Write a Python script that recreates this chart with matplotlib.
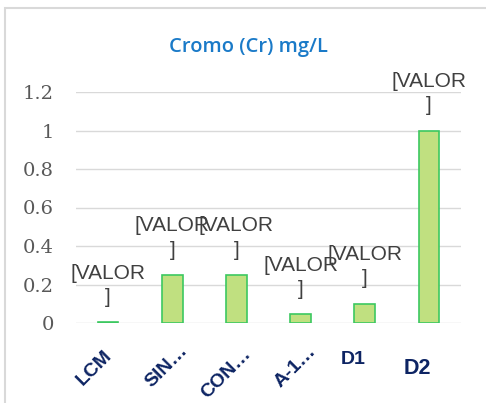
import matplotlib.pyplot as plt
from matplotlib.patches import Rectangle
from matplotlib.transforms import ScaledTranslation, blended_transform_factory

categories = ['LCM', 'SIN…', 'CON…', 'A-1…', 'D1', 'D2']
values = [0.005, 0.25, 0.25, 0.045, 0.1, 1.0]
point_labels = ['[VALOR\n]'] * len(values)
yticks = [0, 0.2, 0.4, 0.6, 0.8, 1, 1.2]
ytick_labels = ['0', '0.2', '0.4', '0.6', '0.8', '1', '1.2']

fig = plt.figure(figsize=(4.86, 4.03), dpi=100)
fig.patches.append(Rectangle((5 / 486, -0.01), 1.0, 1 - 8 / 403 + 0.01,
                             transform=fig.transFigure, fill=False,
                             edgecolor='#d9d9d9', lw=1.5))

ax = fig.add_axes([76 / 486, 1 - 323 / 403, 385 / 486, 231 / 403])
x = list(range(len(categories)))
bars = ax.bar(x, values, width=0.32, color='#c0e080', edgecolor='#3cc860', lw=1.2,
              zorder=3)
for b, lab in zip(bars, point_labels):
    ax.annotate(lab, (b.get_x() + b.get_width() / 2, b.get_height()),
                xytext=(0, 11), textcoords='offset points', ha='center', va='bottom',
                fontsize=15, color='#404040', linespacing=1.35,
                family='Liberation Sans', annotation_clip=False, zorder=4)

ax.set_xlim(-0.5, len(categories) - 0.5)
ax.set_ylim(0, 1.2)
ax.set_yticks(yticks)
ax.set_yticklabels(ytick_labels, family='DejaVu Serif', fontsize=14,
                   color='#595959')
ax.tick_params(axis='y', length=0, pad=16)
ax.set_xticks(x)
ax.set_xticklabels([])
ax.tick_params(axis='x', length=0)
ax.grid(axis='y', color='#d9d9d9', lw=1, zorder=0)
for s in ax.spines.values():
    s.set_visible(False)

# category labels: pixel offsets from (bar centre, axis bottom)
trans = blended_transform_factory(ax.transData, ax.transAxes)
label_style = [
    dict(dx=-5, dy=-24, rot=45, size=14),
    dict(dx=7, dy=-19, rot=45, size=14),
    dict(dx=6, dy=-22, rot=45, size=14),
    dict(dx=7, dy=-20, rot=45, size=14),
    dict(dx=-12, dy=-37, rot=0, size=14),
    dict(dx=-12, dy=-45, rot=0, size=15.5),
]
for xi, name, st in zip(x, categories, label_style):
    tr = trans + ScaledTranslation(st['dx'] / 100, st['dy'] / 100, fig.dpi_scale_trans)
    if st['rot']:
        ax.text(xi, 0, name, transform=tr, rotation=st['rot'], rotation_mode='anchor',
                ha='right', va='top', fontsize=st['size'], fontweight='bold',
                color='#0d2463', family='Liberation Sans')
    else:
        ax.text(xi, 0, name, transform=tr, ha='center', va='center',
                fontsize=st['size'], fontweight='bold', color='#0d2463',
                family='Liberation Sans')

fig.text(248 / 486, 1 - 47 / 403, 'Cromo (Cr) mg/L', color='#1a7ac8', fontsize=14.5,
         family='Open Sans', fontweight='semibold', ha='center', va='center')

fig.savefig('out.png', dpi=100)
